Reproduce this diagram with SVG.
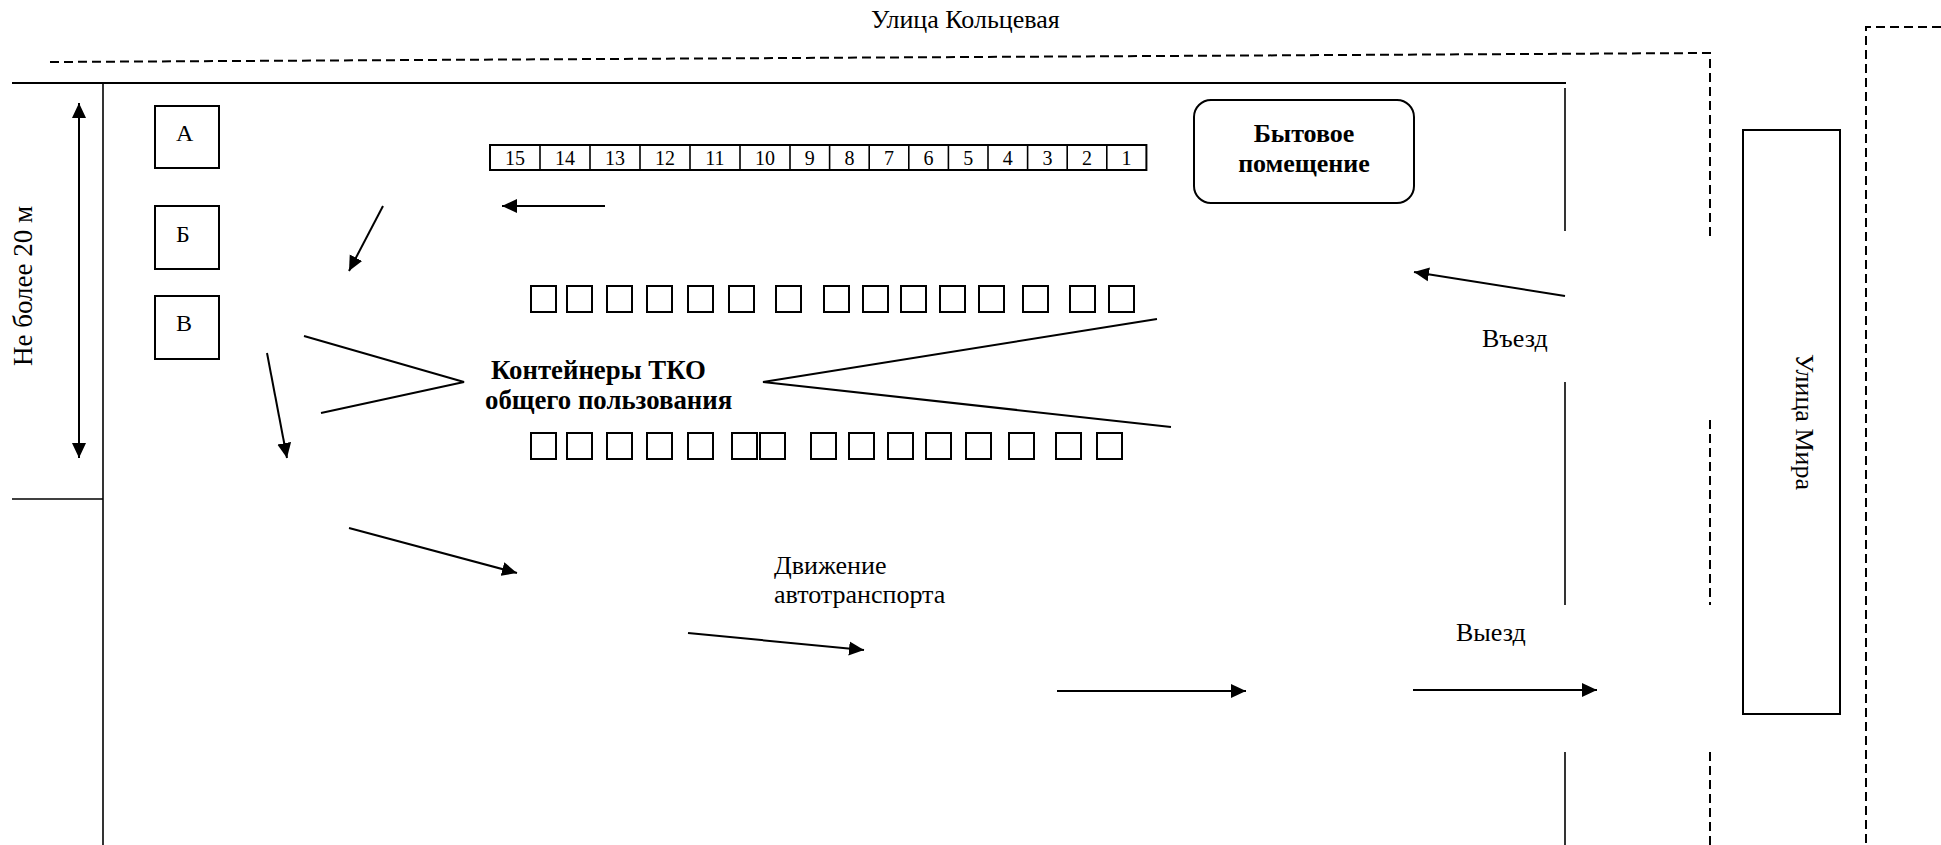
<svg xmlns="http://www.w3.org/2000/svg" width="1941" height="845" viewBox="0 0 1941 845">
<defs>
<style>
.ln{stroke:#000;stroke-width:2;fill:none}
.th{stroke:#000;stroke-width:1.6;fill:none}
.ds{stroke:#000;stroke-width:2;fill:none;stroke-dasharray:9 5}
.bx{stroke:#000;stroke-width:2;fill:#fff}
.sq{stroke:#000;stroke-width:2;fill:none}
.t{font-family:"Liberation Serif","Times New Roman","DejaVu Serif",serif;fill:#000}
.t26{font-size:26px}
.b{font-weight:bold}
.bl{font-size:26.8px;font-weight:bold}
.num{font-size:20px;text-anchor:middle}
.lab{font-size:24px}
</style>
<marker id="ah" markerUnits="userSpaceOnUse" markerWidth="16" markerHeight="16" refX="15" refY="7" orient="auto-start-reverse" viewBox="0 0 16 14">
<path d="M0,0 L15,7 L0,14 z" fill="#000"/>
</marker>
</defs>
<rect width="1941" height="845" fill="#fff"/>

<g id="streets">
<text class="t t26" x="871" y="28">Улица Кольцевая</text>
<polyline class="ds" points="50,62 1710,53 1710,238"/>
<line class="ds" x1="1710" y1="420" x2="1710" y2="605"/>
<line class="ds" x1="1710" y1="752" x2="1710" y2="845"/>
<polyline class="ds" points="1941,27 1866,27 1866,845"/>
</g>

<g id="site-boundary">
<line class="ln" x1="12" y1="83" x2="1566" y2="83"/>
<line class="th" x1="103" y1="83" x2="103" y2="845"/>
<line class="th" x1="12" y1="499" x2="103" y2="499"/>
<line class="th" x1="1565" y1="88" x2="1565" y2="231"/>
<line class="th" x1="1565" y1="382" x2="1565" y2="605"/>
<line class="th" x1="1565" y1="752" x2="1565" y2="845"/>
</g>

<g id="dimension">
<line class="ln" x1="79" y1="103" x2="79" y2="458" marker-start="url(#ah)" marker-end="url(#ah)"/>
<text class="t" font-size="27" text-anchor="middle" transform="translate(32,286) rotate(-90)">Не более 20 м</text>
</g>

<g id="box-a"><rect class="bx" x="155" y="106" width="64" height="62"/><text class="t lab" x="176" y="141">А</text></g>
<g id="box-b"><rect class="bx" x="155" y="206" width="64" height="63"/><text class="t lab" x="176" y="242">Б</text></g>
<g id="box-v"><rect class="bx" x="155" y="296" width="64" height="63"/><text class="t lab" x="176" y="331">В</text></g>

<g id="numbered-strip">
<rect class="bx" x="490" y="145" width="656.4" height="25"/>
<g class="th">
<line x1="540" y1="145" x2="540" y2="170"/>
<line x1="590" y1="145" x2="590" y2="170"/>
<line x1="640" y1="145" x2="640" y2="170"/>
<line x1="690" y1="145" x2="690" y2="170"/>
<line x1="740" y1="145" x2="740" y2="170"/>
<line x1="790" y1="145" x2="790" y2="170"/>
<line x1="829.6" y1="145" x2="829.6" y2="170"/>
<line x1="869.2" y1="145" x2="869.2" y2="170"/>
<line x1="908.8" y1="145" x2="908.8" y2="170"/>
<line x1="948.4" y1="145" x2="948.4" y2="170"/>
<line x1="988" y1="145" x2="988" y2="170"/>
<line x1="1027.6" y1="145" x2="1027.6" y2="170"/>
<line x1="1067.2" y1="145" x2="1067.2" y2="170"/>
<line x1="1106.8" y1="145" x2="1106.8" y2="170"/>
</g>
<g class="t num">
<text x="515" y="165">15</text>
<text x="565" y="165">14</text>
<text x="615" y="165">13</text>
<text x="665" y="165">12</text>
<text x="715" y="165">11</text>
<text x="765" y="165">10</text>
<text x="809.8" y="165">9</text>
<text x="849.4" y="165">8</text>
<text x="889" y="165">7</text>
<text x="928.6" y="165">6</text>
<text x="968.2" y="165">5</text>
<text x="1007.8" y="165">4</text>
<text x="1047.4" y="165">3</text>
<text x="1087" y="165">2</text>
<text x="1126.6" y="165">1</text>
</g>
</g>

<g id="household-room">
<rect class="bx" x="1194" y="100" width="220" height="103" rx="17" ry="17"/>
<text class="t t26 b" x="1304" y="142" text-anchor="middle">Бытовое</text>
<text class="t t26 b" x="1304" y="172" text-anchor="middle">помещение</text>
</g>

<g id="containers-top">
<rect class="sq" x="531" y="286" width="25" height="26"/>
<rect class="sq" x="567" y="286" width="25" height="26"/>
<rect class="sq" x="607" y="286" width="25" height="26"/>
<rect class="sq" x="647" y="286" width="25" height="26"/>
<rect class="sq" x="688" y="286" width="25" height="26"/>
<rect class="sq" x="729" y="286" width="25" height="26"/>
<rect class="sq" x="776" y="286" width="25" height="26"/>
<rect class="sq" x="824" y="286" width="25" height="26"/>
<rect class="sq" x="863" y="286" width="25" height="26"/>
<rect class="sq" x="901" y="286" width="25" height="26"/>
<rect class="sq" x="940" y="286" width="25" height="26"/>
<rect class="sq" x="979" y="286" width="25" height="26"/>
<rect class="sq" x="1023" y="286" width="25" height="26"/>
<rect class="sq" x="1070" y="286" width="25" height="26"/>
<rect class="sq" x="1109" y="286" width="25" height="26"/>
</g>

<g id="containers-bottom">
<rect class="sq" x="531" y="433" width="25" height="26"/>
<rect class="sq" x="567" y="433" width="25" height="26"/>
<rect class="sq" x="607" y="433" width="25" height="26"/>
<rect class="sq" x="647" y="433" width="25" height="26"/>
<rect class="sq" x="688" y="433" width="25" height="26"/>
<rect class="sq" x="732" y="433" width="25" height="26"/>
<rect class="sq" x="760" y="433" width="25" height="26"/>
<rect class="sq" x="811" y="433" width="25" height="26"/>
<rect class="sq" x="849" y="433" width="25" height="26"/>
<rect class="sq" x="888" y="433" width="25" height="26"/>
<rect class="sq" x="926" y="433" width="25" height="26"/>
<rect class="sq" x="966" y="433" width="25" height="26"/>
<rect class="sq" x="1009" y="433" width="25" height="26"/>
<rect class="sq" x="1056" y="433" width="25" height="26"/>
<rect class="sq" x="1097" y="433" width="25" height="26"/>
</g>

<g id="containers-label">
<text class="t bl" x="491" y="379">Контейнеры ТКО</text>
<text class="t bl" x="485" y="409">общего пользования</text>
</g>

<g id="traffic-label">
<text class="t t26" x="774" y="574">Движение</text>
<text class="t t26" x="774" y="603">автотранспорта</text>
</g>

<g id="entry-label"><text class="t t26" x="1482" y="347">Въезд</text></g>
<g id="exit-label"><text class="t t26" x="1456" y="641">Выезд</text></g>

<g id="mira-street">
<rect class="bx" x="1743" y="130" width="97" height="584"/>
<text class="t t26" text-anchor="middle" transform="translate(1796,422) rotate(90)">Улица Мира</text>
</g>

<g id="connectors">
<polyline class="ln" points="304,336 464,382 321,413"/>
<polyline class="ln" points="1157,319 763,382 1171,427"/>
<line class="ln" x1="1565" y1="296" x2="1414" y2="272" marker-end="url(#ah)"/>
<line class="ln" x1="605" y1="206" x2="502" y2="206" marker-end="url(#ah)"/>
<line class="ln" x1="383" y1="206" x2="349" y2="271" marker-end="url(#ah)"/>
<line class="ln" x1="267" y1="353" x2="287" y2="458" marker-end="url(#ah)"/>
<line class="ln" x1="349" y1="528" x2="517" y2="573" marker-end="url(#ah)"/>
<line class="ln" x1="688" y1="633" x2="864" y2="650" marker-end="url(#ah)"/>
<line class="ln" x1="1057" y1="691" x2="1246" y2="691" marker-end="url(#ah)"/>
<line class="ln" x1="1413" y1="690" x2="1597" y2="690" marker-end="url(#ah)"/>
</g>
</svg>
